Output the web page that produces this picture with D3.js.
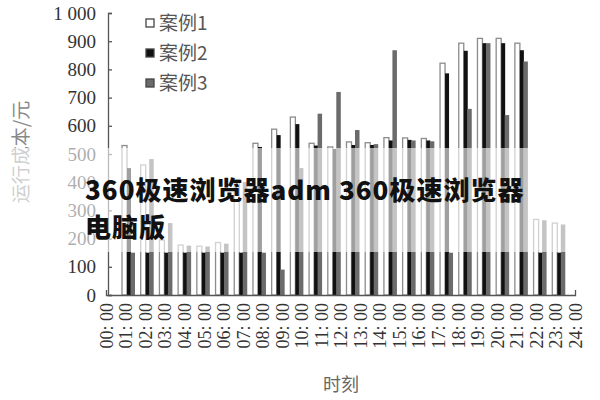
<!DOCTYPE html>
<meta charset="utf-8">
<style>

body {
  margin: 0;
  background: #fff;
}

.axis path,
.axis line {
  stroke: #555;
  stroke-width: 1.3px;
}

.axis text {
  font-family: "Liberation Serif", "DejaVu Serif", serif;
  fill: #333;
}

</style>
<body>
    <div class='canvas'></div>
</body>
<script src="https://cdn.jsdelivr.net/npm/d3@7"></script>
<script>

// data, yuan per hour slot
var hourLabels = ["00: 00", "01: 00", "02: 00", "03: 00", "04: 00", "05: 00", "06: 00",
    "07: 00", "08: 00", "09: 00", "10: 00", "11: 00", "12: 00", "13: 00", "14: 00",
    "15: 00", "16: 00", "17: 00", "18: 00", "19: 00", "20: 00", "21: 00", "22: 00",
    "23: 00", "24: 00"];
var seriesNames = ["案例1", "案例2", "案例3"];
var case1 = [530, 461, 195, 177, 173, 186, 410, 538, 588, 631, 538, 525, 543, 540,
    558, 557, 555, 822, 893, 910, 910, 893, 268, 255];
var case2 = [450, 150, 150, 150, 150, 150, 150, 525, 567, 606, 530, 518, 532, 532,
    548, 550, 548, 786, 866, 893, 893, 868, 150, 150];
var case3 = [150, 482, 255, 175, 172, 182, 400, 150, 90, 450, 643, 720, 585, 535,
    868, 548, 545, 150, 660, 893, 638, 828, 265, 250];
var yTicks = [0, 100, 200, 300, 400, 500, 600, 700, 800, 900, 1000];

var w = 600,
    h = 400;

var svg = d3.select(".canvas").append("svg")
    .attr("width", w)
    .attr("height", h);

var y = d3.scaleLinear().domain([0, 1000]).range([295, 13]);
var xEdge = d3.scaleLinear().domain([0, 24]).range([106, 575]);
var xGroup = d3.scaleBand().domain(d3.range(24)).range([119, 568]);

// bars: white (outlined), black, grey; grey drawn last so it sits on top
var series = [
  {vals: case1, dx: 3, bw: 5, fill: "#fff", stroke: "#8c8c8c"},
  {vals: case2, dx: 8, bw: 4, fill: "#111", stroke: "none"},
  {vals: case3, dx: 11.5, bw: 4.5, fill: "#6b6b6b", stroke: "none"}
];

series.forEach(function(s) {
  svg.append("g").selectAll("rect")
      .data(s.vals)
    .enter().append("rect")
      .attr("x", function(d, i) { return xGroup(i) + s.dx; })
      .attr("y", function(d) { return y(d); })
      .attr("width", s.bw)
      .attr("height", function(d) { return y(0) - y(d); })
      .style("fill", s.fill)
      .style("stroke", s.stroke)
      .style("stroke-width", 1.3);
});

// y axis, ticks point inward
var yAxis = svg.append("g")
    .attr("class", "axis")
    .attr("transform", "translate(108,0)")
    .call(d3.axisLeft(y)
        .tickValues(yTicks)
        .tickSizeInner(-4)
        .tickSizeOuter(-4)
        .tickPadding(12)
        .tickFormat(function(d) { return d === 1000 ? "1 000" : d; }));
yAxis.selectAll("text").style("font-size", "19px");

// x axis
var xAxis = svg.append("g")
    .attr("class", "axis")
    .attr("transform", "translate(0,295)")
    .call(d3.axisBottom(xEdge)
        .tickValues(d3.range(25))
        .tickSizeInner(0)
        .tickSizeOuter(-5)
        .tickFormat(function(i) { return hourLabels[i]; }));
xAxis.selectAll("text")
    .style("font-size", "18px")
    .style("text-anchor", "end")
    .attr("transform", "rotate(-90)")
    .attr("x", -8)
    .attr("y", 0)
    .attr("dy", "0.35em");

// axis titles
svg.append("text")
    .attr("transform", "translate(28,152) rotate(-90)")
    .style("text-anchor", "middle")
    .style("font-family", "'Noto Sans CJK SC', sans-serif")
    .style("font-size", "19px")
    .style("fill", "#888")
    .text("运行成本/元");

svg.append("text")
    .attr("x", 341)
    .attr("y", 391)
    .style("text-anchor", "middle")
    .style("font-family", "'Noto Sans CJK SC', sans-serif")
    .style("font-size", "18px")
    .style("fill", "#666")
    .text("时刻");

// legend
var legend = svg.append("g").selectAll("g")
    .data(seriesNames)
  .enter().append("g")
    .attr("transform", function(d, i) { return "translate(146," + (23 + i * 30) + ")"; });

legend.append("rect")
    .attr("x", 0)
    .attr("y", -4)
    .attr("width", 8)
    .attr("height", 8)
    .style("fill", function(d, i) { return series[i].fill; })
    .style("stroke", "#444")
    .style("stroke-width", 1.3);

legend.append("text")
    .attr("x", 13)
    .attr("dy", "0.35em")
    .style("font-family", "'Noto Sans CJK SC', sans-serif")
    .style("font-size", "19px")
    .style("fill", "#555")
    .text(function(d) { return d; });

// watermark band across the middle
svg.append("rect")
    .attr("x", 0)
    .attr("y", 148)
    .attr("width", w)
    .attr("height", 104)
    .style("fill", "#fff")
    .style("opacity", 0.6);

var mark = svg.append("text")
    .style("font-family", "'Noto Sans CJK SC', sans-serif")
    .style("font-weight", 900)
    .style("font-size", "26px")
    .style("letter-spacing", "1px")
    .style("fill", "#111");
mark.append("tspan").attr("x", 85).attr("y", 200).text("360极速浏览器adm 360极速浏览器");
mark.append("tspan").attr("x", 85).attr("y", 237).text("电脑版");

</script>
